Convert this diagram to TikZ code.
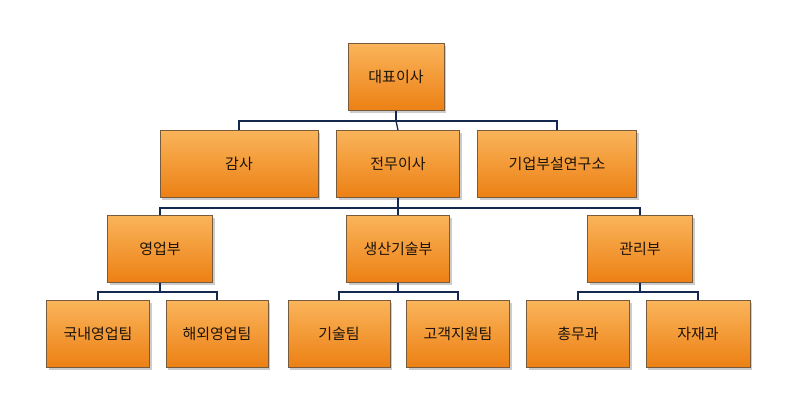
\documentclass[tikz,border=0pt]{standalone}
\usepackage{fontspec}
\newfontfamily\kor{Noto Sans CJK KR}
\usetikzlibrary{shadows}
\definecolor{boxtop}{RGB}{250,180,90}
\definecolor{boxbot}{RGB}{236,128,20}
\definecolor{boxborder}{RGB}{120,90,60}
\definecolor{linkcol}{RGB}{20,40,80}
\tikzset{%
    orgbox/.style={draw=boxborder, line width=0.8pt, top color=boxtop, bottom color=boxbot,
        minimum height=67pt, font=\kor\fontsize{15pt}{17pt}\selectfont, text=black!85!brown,
        drop shadow={shadow xshift=2pt, shadow yshift=-2pt, opacity=0.4}},
    link/.style={draw=linkcol, line width=1.3pt},
}

\begin{document}
\begin{tikzpicture}[x=1pt,y=-1pt]
    \useasboundingbox (0,0) rectangle (800,418);
    % top
    \node[orgbox, minimum width=96pt] (ceo) at (396,77) {대표이사};
    % second row
    \node[orgbox, minimum width=158pt] (audit) at (239,164) {감사};
    \node[orgbox, minimum width=123pt] (exec) at (398,164) {전무이사};
    \node[orgbox, minimum width=159pt] (lab) at (557,164) {기업부설연구소};
    % third row
    \node[orgbox, minimum width=105pt] (sales) at (160,249) {영업부};
    \node[orgbox, minimum width=103pt] (prod) at (398,249) {생산기술부};
    \node[orgbox, minimum width=105pt] (admin) at (640,249) {관리부};
    % teams
    \node[orgbox, minimum width=103pt] (dom) at (98,334) {국내영업팀};
    \node[orgbox, minimum width=102pt] (ovs) at (217,334) {해외영업팀};
    \node[orgbox, minimum width=102pt] (tech) at (339,334) {기술팀};
    \node[orgbox, minimum width=103pt] (cs) at (458,334) {고객지원팀};
    \node[orgbox, minimum width=103pt] (gen) at (578,334) {총무과};
    \node[orgbox, minimum width=104pt] (mat) at (698,334) {자재과};

    \draw[link] (ceo.south) -- ++(0,10) coordinate (j1);
    \draw[link] (audit.north) |- (j1) -| (lab.north);
    \draw[link] (j1) -- (exec.north);
    \draw[link] (exec.south) -- ++(0,10) coordinate (j2);
    \draw[link] (sales.north) |- (j2) -| (admin.north);
    \draw[link] (j2) -- (prod.north);
    \foreach \p/\a/\b in {sales/dom/ovs, prod/tech/cs, admin/gen/mat}{
        \draw[link] (\p.south) -- ++(0,9) coordinate (j\p);
        \draw[link] (\a.north) |- (j\p) -| (\b.north);
    }
\end{tikzpicture}
\end{document}
